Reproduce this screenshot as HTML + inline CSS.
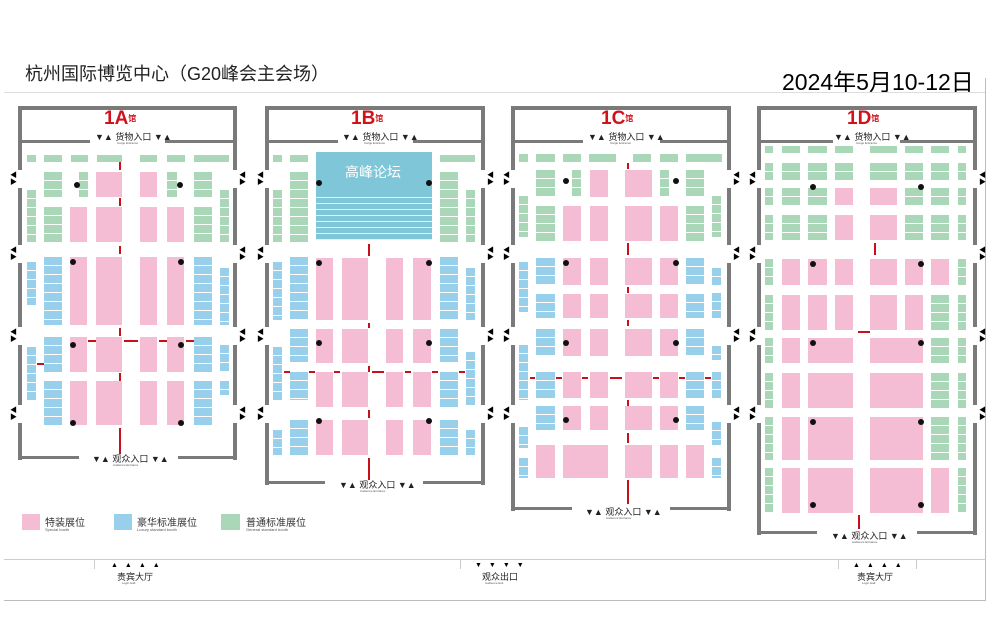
<!DOCTYPE html>
<html><head><meta charset="utf-8">
<style>
*{margin:0;padding:0;box-sizing:border-box}
body{width:998px;height:617px;background:#fff;position:relative;overflow:hidden;font-family:"Liberation Sans","Noto Sans CJK SC",sans-serif}
.a{position:absolute}
.w{position:absolute;background:#7a7a7a}
.p{background:#f5bdd3}
.b{background:#98cfea;background-image:repeating-linear-gradient(180deg,transparent 0 8px,#fff 8px 9px)}
.g{background:#a9d7b7;background-image:repeating-linear-gradient(180deg,transparent 0 8px,#fff 8px 9px)}
.t{position:absolute;font-size:9px;color:#222;white-space:nowrap}
.s{position:absolute;font-size:3px;color:#555;white-space:nowrap}
.h{position:absolute;color:#d0121b;font-weight:bold;font-size:19px;line-height:19px}
.h small{font-size:8px;vertical-align:top}
.dot{position:absolute;width:6px;height:6px;border-radius:50%;background:#111}
.ra{position:absolute;width:2px;background:#c8101b}
.rh{position:absolute;height:2px;background:#c8101b}
.tri{position:absolute;font-size:7px;color:#000;line-height:7px}
</style></head><body>
<div class="a" style="left:25px;top:60px;font-size:18px;color:#222">杭州国际博览中心（G20峰会主会场）</div>
<div class="a" style="left:782px;top:63px;font-size:23px;color:#000">2024年5月10-12日</div>
<div class="a" style="left:4px;top:92px;width:982px;height:1px;background:#ddd"></div>
<div class="a" style="left:985px;top:78px;width:1px;height:523px;background:#bbb"></div>
<div class="a" style="left:4px;top:559px;width:982px;height:1px;background:#ccc"></div>
<div class="a" style="left:4px;top:600px;width:982px;height:1px;background:#bbb"></div>
<div class="a" style="left:94px;top:559px;width:1px;height:10px;background:#ccc"></div>
<div class="a" style="left:460px;top:559px;width:1px;height:10px;background:#ccc"></div>
<div class="a" style="left:838px;top:559px;width:1px;height:10px;background:#ccc"></div>
<div class="a" style="left:916px;top:559px;width:1px;height:10px;background:#ccc"></div>
<div class="tri" style="left:111px;top:562px;letter-spacing:7px">▲▲▲▲</div>
<div class="t" style="left:117px;top:570px">贵宾大厅</div><div class="s" style="left:122px;top:581px">Login Hall</div>
<div class="tri" style="left:475px;top:562px;letter-spacing:7px">▼▼▼▼</div>
<div class="t" style="left:482px;top:570px">观众出口</div><div class="s" style="left:485px;top:581px">Audience Exit</div>
<div class="tri" style="left:853px;top:562px;letter-spacing:7px">▲▲▲▲</div>
<div class="t" style="left:857px;top:570px">贵宾大厅</div><div class="s" style="left:862px;top:581px">Login Hall</div>
<!-- legend -->
<div class="a p" style="left:22px;top:514px;width:18px;height:16px"></div>
<div class="t" style="left:45px;top:514px;font-size:10px;color:#333">特装展位</div><div class="s" style="left:45px;top:527px;font-size:4px">Special booth</div>
<div class="a" style="left:114px;top:514px;width:18px;height:16px;background:#98cfea"></div>
<div class="t" style="left:137px;top:514px;font-size:10px;color:#333">豪华标准展位</div><div class="s" style="left:137px;top:527px;font-size:4px">Luxury standard booth</div>
<div class="a" style="left:221px;top:514px;width:19px;height:16px;background:#a9d7b7"></div>
<div class="t" style="left:246px;top:514px;font-size:10px;color:#333">普通标准展位</div><div class="s" style="left:246px;top:527px;font-size:4px">General standard booth</div>
<!-- forum -->
<div class="a" style="left:316px;top:152px;width:116px;height:88px;background:#7fc6d8;background-image:repeating-linear-gradient(180deg,transparent 0 5px,#dff1f6 5px 6px);background-size:100% 50px;background-position:0 40px;background-repeat:no-repeat"></div>
<div class="a" style="left:316px;top:152px;width:116px;height:40px;background:#7fc6d8"></div>
<div class="a" style="left:345px;top:162px;font-size:14px;color:#fff">高峰论坛</div>
<div class="dot" style="left:316px;top:180px"></div><div class="dot" style="left:426px;top:180px"></div>

<div class="h" style="left:104px;top:109px">1A<small>馆</small></div>
<div class="h" style="left:351px;top:109px">1B<small>馆</small></div>
<div class="h" style="left:601px;top:109px">1C<small>馆</small></div>
<div class="h" style="left:847px;top:109px">1D<small>馆</small></div>

<div class="t" style="left:95px;top:130px">▼▲ 货物入口 ▼▲</div><div class="s" style="left:117px;top:141px">Cargo Entrance</div>
<div class="t" style="left:342px;top:130px">▼▲ 货物入口 ▼▲</div><div class="s" style="left:364px;top:141px">Cargo Entrance</div>
<div class="t" style="left:588px;top:130px">▼▲ 货物入口 ▼▲</div><div class="s" style="left:610px;top:141px">Cargo Entrance</div>
<div class="t" style="left:834px;top:130px">▼▲ 货物入口 ▼▲</div><div class="s" style="left:856px;top:141px">Cargo Entrance</div>

<div class="t" style="left:92px;top:452px">▼▲ 观众入口 ▼▲</div><div class="s" style="left:113px;top:463px">Audience Entrance</div>
<div class="t" style="left:339px;top:478px">▼▲ 观众入口 ▼▲</div><div class="s" style="left:360px;top:489px">Audience Entrance</div>
<div class="t" style="left:585px;top:505px">▼▲ 观众入口 ▼▲</div><div class="s" style="left:606px;top:516px">Audience Entrance</div>
<div class="t" style="left:831px;top:529px">▼▲ 观众入口 ▼▲</div><div class="s" style="left:852px;top:540px">Audience Entrance</div>

<div id="m"></div>
<script>
var m=document.getElementById('m'),H='';
function R(x,y,w,h,c){H+='<div class="a '+c+'" style="left:'+x+'px;top:'+y+'px;width:'+w+'px;height:'+h+'px"></div>';}
function W(x,y,w,h){H+='<div class="w" style="left:'+x+'px;top:'+y+'px;width:'+w+'px;height:'+h+'px"></div>';}
function hall(x0,x1,y0,y1,bg,hg,doors){
 W(x0,y0,x1-x0,4); W(x0,y0,4,y1-y0+4); W(x1-4,y0,4,y1-y0+4);
 W(x0,140,hg[0]-x0,3); W(hg[1],140,x1-hg[1],3);
 W(x0,y1,bg[0]-x0,3); W(bg[1],y1,x1-bg[1],3);
 doors.forEach(function(d){H+='<div class="a" style="left:'+(x0)+'px;top:'+d+'px;width:4px;height:18px;background:#fff"></div><div class="a" style="left:'+(x1-4)+'px;top:'+d+'px;width:4px;height:18px;background:#fff"></div>';
  H+='<div class="tri" style="left:'+(x0-8)+'px;top:'+(d+2)+'px">◀<br>▶</div><div class="tri" style="left:'+(x1+2)+'px;top:'+(d+2)+'px">◀<br>▶</div>';});
}
hall(18,237,106,456,[79,178],[90,165],[170,245,327,405]);
hall(265,485,106,481,[325,423],[338,413],[170,245,327,405]);
hall(511,731,106,507,[572,670],[583,660],[170,245,327,405]);
hall(757,977,106,531,[817,917],[833,900],[170,245,327,405]);
var D=[
// 1A
[27,155,9,7,'g'],[44,155,18,7,'g'],[71,155,17,7,'g'],[97,155,25,7,'g'],[140,155,17,7,'g'],[167,155,18,7,'g'],[194,155,35,7,'g'],
[44,172,18,25,'g'],[79,172,9,25,'g'],[96,172,26,25,'p'],[140,172,17,25,'p'],[167,172,10,25,'g'],[194,172,18,25,'g'],
[27,190,9,52,'g'],[44,207,18,35,'g'],[70,207,17,35,'p'],[96,207,26,35,'p'],[140,207,17,35,'p'],[167,207,17,35,'p'],[194,207,18,35,'g'],[220,190,9,52,'g'],
[27,262,9,43,'b'],[44,257,18,68,'b'],[70,257,17,68,'p'],[96,257,26,68,'p'],[140,257,17,68,'p'],[167,257,17,68,'p'],[194,257,18,68,'b'],[220,268,9,57,'b'],
[27,347,9,53,'b'],[44,337,18,35,'b'],[70,337,17,35,'p'],[96,337,26,35,'p'],[140,337,17,35,'p'],[167,337,17,35,'p'],[194,337,18,35,'b'],[220,345,9,27,'b'],
[44,381,18,44,'b'],[70,381,17,44,'p'],[96,381,26,44,'p'],[140,381,17,44,'p'],[167,381,17,44,'p'],[194,381,18,44,'b'],[220,381,9,14,'b'],
// 1B
[273,155,9,7,'g'],[290,155,18,7,'g'],[440,155,35,7,'g'],
[273,190,9,52,'g'],[290,172,18,70,'g'],[440,172,18,70,'g'],[466,190,9,52,'g'],
[273,262,9,58,'b'],[290,257,18,63,'b'],[316,258,17,62,'p'],[342,258,26,62,'p'],[386,258,17,62,'p'],[413,258,18,62,'p'],[440,257,18,63,'b'],[466,268,9,52,'b'],
[290,329,18,33,'b'],[316,329,17,34,'p'],[342,329,26,34,'p'],[386,329,17,34,'p'],[413,329,18,34,'p'],[440,329,18,33,'b'],[273,347,9,53,'b'],[466,352,9,53,'b'],
[290,372,18,28,'b'],[316,372,17,35,'p'],[342,372,26,35,'p'],[386,372,17,35,'p'],[413,372,18,35,'p'],[440,372,18,35,'b'],
[273,430,9,25,'b'],[290,420,18,35,'b'],[316,420,17,35,'p'],[342,420,26,35,'p'],[386,420,17,35,'p'],[413,420,18,35,'p'],[440,420,18,35,'b'],[466,430,9,25,'b'],
// 1C
[519,154,9,8,'g'],[536,154,19,8,'g'],[563,154,18,8,'g'],[589,154,27,8,'g'],[633,154,18,8,'g'],[660,154,18,8,'g'],[686,154,36,8,'g'],
[536,170,19,27,'g'],[572,170,9,27,'g'],[590,170,18,27,'p'],[625,170,27,27,'p'],[660,170,9,27,'g'],[686,170,18,27,'g'],
[519,196,9,41,'g'],[536,206,19,35,'g'],[563,206,18,35,'p'],[590,206,18,35,'p'],[625,206,27,35,'p'],[660,206,18,35,'p'],[686,206,18,35,'g'],[712,196,9,41,'g'],
[519,262,9,50,'b'],[712,268,9,17,'b'],[712,293,9,25,'b'],[519,345,9,55,'b'],[712,346,9,14,'b'],[712,372,9,26,'b'],[519,427,9,21,'b'],[712,422,9,23,'b'],
[536,445,19,33,'p'],[563,445,45,33,'p'],[625,445,27,33,'p'],[660,445,18,33,'p'],[686,445,18,33,'p'],[519,458,9,20,'b'],[712,458,9,20,'b']
];
[[258,27],[294,24],[329,27],[372,26],[406,24]].forEach(function(r){
 D.push([536,r[0],19,r[1],'b'],[563,r[0],18,r[1],'p'],[590,r[0],18,r[1],'p'],[625,r[0],27,r[1],'p'],[660,r[0],18,r[1],'p'],[686,r[0],18,r[1],'b']);});
// 1D
var C=[[765,8],[782,18],[808,19],[835,18],[870,27],[905,18],[931,18],[958,8]];
function row(y,h,t){t.split('').forEach(function(c,i){if(c!='-')D.push([C[i][0],y,C[i][1],h,c]);});}
row(146,7,'gggggggg');row(163,18,'gggggggg');row(188,17,'gggppggg');row(215,25,'gggppggg');
row(259,26,'gppppppg');row(295,35,'gpppppgg');
[[338,25],[373,35],[417,43]].forEach(function(r){row(r[0],r[1],'gp----gg');D.push([808,r[0],45,r[1],'p'],[870,r[0],53,r[1],'p']);});
row(468,45,'gp----pg');D.push([808,468,45,45,'p'],[870,468,53,45,'p']);
D.forEach(function(d){R(d[0],d[1],d[2],d[3],d[4]);});
// dots
[[74,182],[177,182],[70,259],[178,259],[70,342],[178,342],[70,420],[178,420],[316,260],[426,260],[316,340],[426,340],[316,418],[426,418],[563,178],[673,178],[563,260],[673,260],[563,340],[673,340],[563,417],[673,417],[810,184],[918,184],[810,261],[918,261],[810,340],[918,340],[810,419],[918,419],[810,502],[918,502]].forEach(function(p){H+='<div class="dot" style="left:'+p[0]+'px;top:'+p[1]+'px"></div>';});
// red arrows
function va(x,y,h){H+='<div class="ra" style="left:'+x+'px;top:'+y+'px;height:'+h+'px"></div>';}
function ha(x,y,w){H+='<div class="rh" style="left:'+x+'px;top:'+y+'px;width:'+w+'px"></div>';}
va(119,162,8);va(119,198,8);va(119,246,8);va(119,328,8);va(119,373,8);va(119,428,26);
ha(88,340,8);ha(124,340,14);ha(159,340,8);ha(186,340,8);ha(37,363,7);
va(368,244,12);va(368,323,5);va(368,366,6);va(368,410,8);va(368,458,22);
ha(284,371,6);ha(309,371,6);ha(334,371,6);ha(372,371,12);ha(405,371,6);ha(432,371,6);ha(459,371,6);
va(627,163,6);va(627,243,12);va(627,287,6);va(627,320,6);va(627,400,6);va(627,433,10);va(627,480,24);
ha(530,377,5);ha(556,377,6);ha(582,377,6);ha(610,377,12);ha(653,377,6);ha(679,377,6);ha(705,377,6);
va(874,243,12);ha(858,331,12);va(858,515,14);
m.innerHTML=H;
</script>
</body></html>
